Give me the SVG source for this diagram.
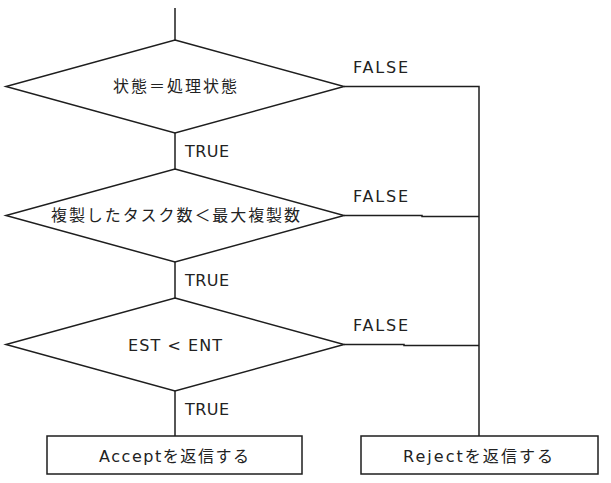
<svg xmlns="http://www.w3.org/2000/svg" width="611" height="483" viewBox="0 0 611 483">
  <style>
    .shape { fill: #ffffff; stroke: #1e1e1e; stroke-width: 1.5; }
    .conn { fill: none; stroke: #1e1e1e; stroke-width: 1.5; }
    .t { font-family: "DejaVu Sans", "Noto Sans CJK JP", sans-serif; font-size: 16px; fill: #222222; }
  </style>
  <rect x="0" y="0" width="611" height="483" fill="#ffffff"/>
  <g id="connectors">
    <line class="conn" x1="175" y1="8" x2="175" y2="40"/>
    <line class="conn" x1="175" y1="133" x2="175" y2="169"/>
    <line class="conn" x1="175" y1="262" x2="175" y2="298"/>
    <line class="conn" x1="175" y1="391" x2="175" y2="436"/>
    <polyline class="conn" points="344,86.5 479,86.5 479,436"/>
    <polyline class="conn" points="344,215.5 422,215.5 422,216.5 479,216.5"/>
    <polyline class="conn" points="344,344.5 404,344.5 404,345.5 479,345.5"/>
    <text class="t" x="353" y="73" textLength="55" lengthAdjust="spacing">FALSE</text>
    <text class="t" x="353" y="202" textLength="55" lengthAdjust="spacing">FALSE</text>
    <text class="t" x="353" y="331" textLength="55" lengthAdjust="spacing">FALSE</text>
    <text class="t" x="185" y="157" textLength="44" lengthAdjust="spacing">TRUE</text>
    <text class="t" x="185" y="286" textLength="44" lengthAdjust="spacing">TRUE</text>
    <text class="t" x="185" y="415" textLength="44" lengthAdjust="spacing">TRUE</text>
  </g>
  <g id="decision1">
    <polygon class="shape" points="175,40 344,86.5 175,133 6,86.5"/>
    <text class="t" x="113" y="92" textLength="124" lengthAdjust="spacing">状態＝処理状態</text>
  </g>
  <g id="decision2">
    <polygon class="shape" points="175,169 344,215.5 175,262 6,215.5"/>
    <text class="t" x="51" y="221" textLength="249" lengthAdjust="spacing">複製したタスク数＜最大複製数</text>
  </g>
  <g id="decision3">
    <polygon class="shape" points="175,298 344,344.5 175,391 6,344.5"/>
    <text class="t" x="128" y="351" textLength="94" lengthAdjust="spacing">EST &lt; ENT</text>
  </g>
  <g id="accept">
    <rect class="shape" x="47" y="436" width="255" height="38"/>
    <text class="t" x="99" y="462" textLength="150" lengthAdjust="spacing">Acceptを返信する</text>
  </g>
  <g id="reject">
    <rect class="shape" x="361" y="436" width="237" height="38"/>
    <text class="t" x="403" y="462" textLength="150" lengthAdjust="spacing">Rejectを返信する</text>
  </g>
</svg>
